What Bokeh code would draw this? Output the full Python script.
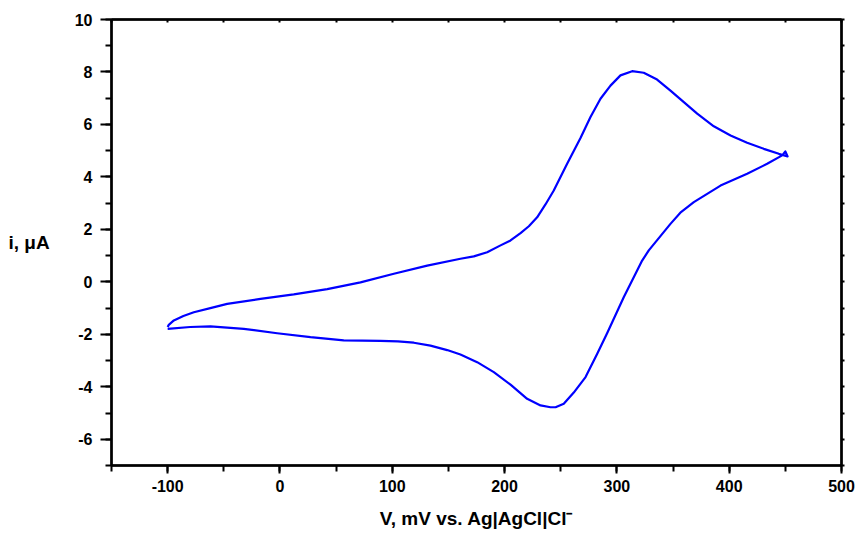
from bokeh.plotting import figure
from bokeh.models import Range1d, LinearAxis, SingleIntervalTicker, CustomJSTickFormatter
from bokeh.embed import file_html
from bokeh.resources import INLINE

# Forward (anodic) sweep, potential in mV and current in uA
fwd_v = [-100, -99, -94.5, -86, -76.7, -62, -47, -17.3, 12.3, 42.1, 71.7, 101.4, 131.1,
         160.7, 172.6, 184.5, 196.4, 205.3, 214.2, 221.6, 229, 236.4, 243.8, 255.7,
         267.6, 276.5, 285.4, 294.3, 303.2, 313.6, 323.9, 335.8, 347.7, 359.6, 371.5,
         386.3, 401.2, 416, 430.8, 444.2, 452]
fwd_i = [-1.72, -1.64, -1.47, -1.30, -1.16, -1.00, -0.84, -0.65, -0.48, -0.28, -0.02, 0.31, 0.62,
         0.88, 0.97, 1.13, 1.39, 1.58, 1.86, 2.12, 2.46, 2.95, 3.48, 4.50,
         5.48, 6.28, 6.98, 7.48, 7.87, 8.03, 7.97, 7.71, 7.29, 6.85, 6.41,
         5.93, 5.58, 5.30, 5.07, 4.88, 4.78]
# Reverse (cathodic) sweep
rev_v = [450, 447.2, 433.8, 416, 392.3, 368.5, 357.1, 347.7, 328.4, 322.5, 306.2, 291.4,
         282.5, 272.1, 261.6, 252.7, 245.4, 240.9, 232, 220.1, 205.3, 190.4, 175.6, 160.7,
         148.9, 134, 119.2, 105, 89.5, 56.8, 27.2, -2.5, -32.2, -61.9, -80, -100]
rev_i = [4.97, 4.82, 4.50, 4.12, 3.67, 3.04, 2.66, 2.21, 1.20, 0.81, -0.58, -1.95,
         -2.74, -3.63, -4.22, -4.65, -4.78, -4.78, -4.71, -4.46, -3.92, -3.44, -3.06, -2.77,
         -2.60, -2.43, -2.32, -2.27, -2.25, -2.23, -2.11, -1.96, -1.79, -1.70, -1.72, -1.79]

x_label = "V, mV vs. Ag|AgCl|Cl\u207b"
y_label = "i, \u03bcA"

FONT = "Liberation Sans"

p = figure(width=856, height=538, output_backend="svg", toolbar_location=None,
           x_range=Range1d(-150, 500), y_range=Range1d(-7, 10),
           x_axis_location=None, y_axis_location=None,
           min_border_left=111, min_border_right=15, min_border_top=19, min_border_bottom=73)
p.grid.visible = False
p.outline_line_color = "black"
p.outline_line_width = 2

p.line(fwd_v + rev_v, fwd_i + rev_i, line_color="#0000ff", line_width=2.2, line_join="round")

plain = CustomJSTickFormatter(code="return tick.toFixed(0)")
blank = CustomJSTickFormatter(code="return ''")

def style(ax, size="16px"):
    ax.axis_line_width = 2.5
    ax.axis_line_color = "black"
    ax.major_tick_line_width = 2
    ax.minor_tick_line_width = 2
    ax.major_label_text_font = FONT
    ax.major_label_text_font_style = "bold"
    ax.major_label_text_font_size = size
    ax.major_label_text_color = "black"

xb = LinearAxis(ticker=SingleIntervalTicker(interval=100, num_minor_ticks=2), formatter=plain)
style(xb, "16px")
xb.major_tick_in = 0
xb.major_tick_out = 8
xb.minor_tick_in = 0
xb.minor_tick_out = 6
xb.major_label_standoff = 6
xb.axis_label = x_label
xb.axis_label_text_font = FONT
xb.axis_label_text_font_style = "bold"
xb.axis_label_text_font_size = "19px"
xb.axis_label_text_color = "black"
xb.axis_label_standoff = 13
p.add_layout(xb, "below")

yl = LinearAxis(ticker=SingleIntervalTicker(interval=2, num_minor_ticks=2), formatter=plain)
style(yl, "16px")
yl.major_tick_in = 0
yl.major_tick_out = 11
yl.minor_tick_in = 0
yl.minor_tick_out = 6
yl.major_label_standoff = 8
yl.axis_label = y_label
yl.axis_label_orientation = "horizontal"
yl.axis_label_text_font = FONT
yl.axis_label_text_font_style = "bold"
yl.axis_label_text_font_size = "19px"
yl.axis_label_text_color = "black"
yl.axis_label_standoff = 22
p.add_layout(yl, "left")

xt = LinearAxis(ticker=SingleIntervalTicker(interval=50, num_minor_ticks=0), formatter=blank)
style(xt)
xt.major_tick_in = 3
xt.major_tick_out = 0
xt.major_label_text_font_size = "1px"
p.add_layout(xt, "above")

yr = LinearAxis(ticker=SingleIntervalTicker(interval=1, num_minor_ticks=0), formatter=blank)
style(yr)
yr.major_tick_in = 0
yr.major_tick_out = 3
yr.major_label_text_font_size = "1px"
p.add_layout(yr, "right")

open("out.html", "w").write(file_html(p, INLINE))
